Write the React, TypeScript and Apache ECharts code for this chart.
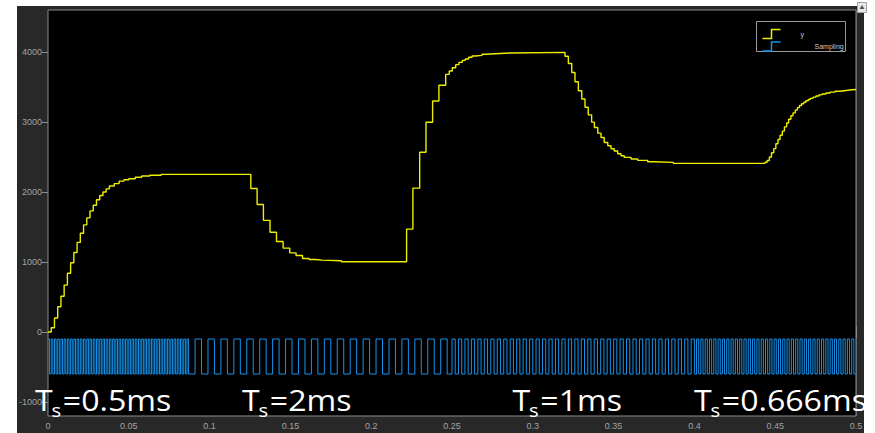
import React, { useEffect, useRef } from 'react';
import * as echarts from 'echarts';

// ---- yellow output y: step values (time at which each level starts, level) ----
const Y_TIMES = [
  0, 0.002, 0.004, 0.006, 0.008, 0.010, 0.012, 0.014, 0.016, 0.018, 0.020, 0.022, 0.024, 0.026,
  0.028, 0.030, 0.032, 0.034, 0.036, 0.038, 0.041, 0.044, 0.047, 0.050, 0.054, 0.058, 0.063, 0.070,
  0.1255, 0.1294, 0.1333, 0.1374, 0.1414, 0.1455, 0.1496, 0.1535, 0.1575, 0.1616, 0.1655, 0.1696, 0.1816,
  0.2219, 0.2258, 0.2300, 0.2339, 0.2380, 0.2419, 0.2461, 0.2483, 0.2502, 0.2523, 0.2543, 0.2564,
  0.2582, 0.2603, 0.2624, 0.2644, 0.2686, 0.2706, 0.2766, 0.2864,
  0.3199, 0.3220, 0.3241, 0.3261, 0.3282, 0.3303, 0.3323, 0.3343, 0.3364, 0.3381, 0.3402, 0.3422,
  0.3442, 0.3464, 0.3484, 0.3504, 0.3525, 0.3546, 0.3566, 0.3608, 0.3649, 0.3711, 0.3752, 0.3870,
  0.4437, 0.4450, 0.4464, 0.4477, 0.4491, 0.4504, 0.4517, 0.4530, 0.4544, 0.4557, 0.4571, 0.4583,
  0.4597, 0.4610, 0.4624, 0.4637, 0.4650, 0.4663, 0.4677, 0.4690, 0.4704, 0.4717, 0.4734, 0.4752,
  0.4771, 0.4790, 0.4814, 0.4839, 0.4870, 0.4901, 0.4938, 0.4975, 0.5,
];
const Y_VALUES = [
  0, 60, 200, 360, 510, 670, 840, 990, 1135, 1280, 1410, 1530, 1630, 1730,
  1810, 1890, 1950, 2000, 2045, 2085, 2120, 2155, 2175, 2190, 2210, 2228, 2240, 2252,
  2050, 1822, 1595, 1425, 1292, 1198, 1131, 1092, 1050, 1036, 1027, 1017, 1003,
  1470, 2055, 2567, 2996, 3300, 3524, 3681, 3729, 3776, 3819, 3852, 3881,
  3900, 3924, 3943, 3952, 3967, 3976, 3986, 3995,
  3939, 3835, 3707, 3574, 3446, 3328, 3211, 3102, 2998, 2922, 2841,
  2779, 2708, 2661, 2618, 2585, 2547, 2518, 2494, 2471, 2452, 2433, 2423, 2409,
  2425, 2450, 2500, 2560, 2620, 2690, 2750, 2810, 2870, 2930, 2985, 3040,
  3090, 3130, 3170, 3205, 3235, 3260, 3283, 3303, 3322, 3338, 3355, 3372,
  3388, 3400, 3415, 3427, 3440, 3450, 3460, 3465, 3465,
];

// ---- blue "Sampling" square wave: segments and toggle interval ----
const SAMPLING_STARTS = [0, 0.087, 0.25, 0.4];
const SAMPLING_ENDS = [0.087, 0.25, 0.4, 0.5];
const SAMPLING_TOGGLE = [0.001, 0.004, 0.002, 0.00133333];
const SAMPLING_LEVELS = [-100, -600];

const Y_TICKS = [-1000, 0, 1000, 2000, 3000, 4000];
const TS_LABELS = ['0.5ms', '2ms', '1ms', '0.666ms'];
const SERIES_NAMES = ['y', 'Sampling'];

const YELLOW = '#eeee00';
const BLUE = '#1593ec';

function buildYellow() {
  return Y_TIMES.map((t, i) => [t, Y_VALUES[i]]);
}

function buildSampling() {
  const out: number[][] = [];
  let state = 0;
  for (let s = 0; s < SAMPLING_STARTS.length; s++) {
    const n = Math.round((SAMPLING_ENDS[s] - SAMPLING_STARTS[s]) / SAMPLING_TOGGLE[s]);
    for (let k = 0; k < n; k++) {
      out.push([SAMPLING_STARTS[s] + k * SAMPLING_TOGGLE[s], SAMPLING_LEVELS[state]]);
      state = 1 - state;
    }
  }
  out.push([0.5, SAMPLING_LEVELS[1 - state]]);
  return out;
}

const LABEL_X = [35, 242, 512.5, 694];

function tsLabel(x: number, value: string) {
  return {
    type: 'group',
    x,
    y: 0,
    scaleX: 1.07,
    z: 50,
    children: [
      { type: 'text', x: 0, y: 399.5, z: 50, style: { text: 'T', fontSize: 30, fontFamily: 'Open Sans', fill: '#ffffff', verticalAlign: 'middle' } },
      { type: 'text', x: 15.5, y: 410, z: 50, style: { text: 's', fontSize: 19, fontFamily: 'Open Sans', fill: '#ffffff', verticalAlign: 'middle' } },
      { type: 'text', x: 26, y: 399.5, z: 50, style: { text: '=' + value, fontSize: 30, fontFamily: 'Open Sans', fill: '#ffffff', verticalAlign: 'middle' } },
    ],
  };
}

export default function App() {
  const ref = useRef<HTMLDivElement>(null);
  useEffect(() => {
    if (!ref.current) return;
    const chart = echarts.init(ref.current, undefined, { renderer: 'svg' });
    const axisFont = { color: '#a3a3a3', fontSize: 9, fontFamily: 'Liberation Sans, Arial, sans-serif' };
    const fmt = (v: number) => String(Math.round(v * 1000) / 1000);
    const option: any = {
      animation: false,
      backgroundColor: '#ffffff',
      grid: {
        left: 48,
        right: 19,
        top: 10,
        bottom: 17,
        show: true,
        backgroundColor: '#000000',
        borderColor: '#8c8c8c',
        borderWidth: 1,
        z: 1,
      },
      xAxis: [
        {
          type: 'value',
          min: 0,
          max: 0.5,
          interval: 0.05,
          position: 'bottom',
          axisLine: { show: false },
          axisTick: { show: true, inside: true, length: 6, lineStyle: { color: '#8c8c8c' } },
          axisLabel: { ...axisFont, margin: 5, formatter: fmt },
          splitLine: { show: true, lineStyle: { color: '#4a4a4a', width: 1 } },
        },
        {
          type: 'value',
          min: 0,
          max: 0.5,
          interval: 0.05,
          position: 'top',
          axisLine: { show: false },
          axisTick: { show: true, inside: true, length: 6, lineStyle: { color: '#8c8c8c' } },
          axisLabel: { show: false },
          splitLine: { show: false },
        },
      ],
      yAxis: [
        {
          type: 'value',
          min: -1200,
          max: 4600,
          position: 'left',
          axisLine: { show: false },
          axisTick: { show: true, inside: true, length: 6, lineStyle: { color: '#8c8c8c' }, customValues: Y_TICKS },
          axisLabel: { ...axisFont, margin: 6, customValues: Y_TICKS, formatter: fmt },
          splitLine: { show: true, lineStyle: { color: '#4a4a4a', width: 1 } },
        },
        {
          type: 'value',
          min: -1200,
          max: 4600,
          position: 'right',
          axisLine: { show: false },
          axisTick: { show: true, inside: true, length: 6, lineStyle: { color: '#8c8c8c' }, customValues: Y_TICKS },
          axisLabel: { show: false, customValues: Y_TICKS },
          splitLine: { show: false },
        },
      ],
      legend: [
        {
          data: [{ name: SERIES_NAMES[0], icon: 'path://M0,9L9,9L9,0L18,0' }],
          left: 760,
          top: 27,
          padding: 0,
          itemWidth: 18,
          itemHeight: 9,
          selectedMode: false,
          z: 20,
          itemStyle: { color: 'none', borderColor: YELLOW, borderWidth: 1.5 },
          textStyle: { color: '#c8c8c8', fontSize: 7, fontFamily: 'Liberation Sans, Arial, sans-serif', padding: [0, 0, 0, 15] },
        },
        {
          data: [{ name: SERIES_NAMES[1], icon: 'path://M0,9L9,9L9,0L18,0' }],
          left: 760,
          top: 39.5,
          padding: 0,
          itemWidth: 18,
          itemHeight: 9,
          selectedMode: false,
          z: 20,
          itemStyle: { color: 'none', borderColor: BLUE, borderWidth: 1.5 },
          textStyle: { color: '#c8c8c8', fontSize: 7, fontFamily: 'Liberation Sans, Arial, sans-serif', padding: [0, 0, 0, 29] },
        },
      ],
      graphic: [
        { type: 'rect', z: -10, shape: { x: 17, y: 6, width: 847, height: 427 }, style: { fill: '#282828' } },
        { type: 'rect', z: 15, shape: { x: 756.5, y: 21.5, width: 89, height: 30 }, style: { fill: '#000000', stroke: '#9a9a9a', lineWidth: 1 } },
        { type: 'rect', z: 15, shape: { x: 857.5, y: 2.5, width: 9, height: 10 }, style: { fill: '#e8e8e8', stroke: '#a0a0a0', lineWidth: 1 } },
        { type: 'polygon', z: 16, shape: { points: [[859.5, 9], [862, 5], [864.5, 9]] }, style: { fill: '#555555' } },
        ...TS_LABELS.map((v, i) => tsLabel(LABEL_X[i], v)),
      ],
      series: [
        {
          name: SERIES_NAMES[1],
          type: 'line',
          step: 'end',
          xAxisIndex: 0,
          yAxisIndex: 0,
          data: buildSampling(),
          symbol: 'none',
          showSymbol: false,
          color: BLUE,
          lineStyle: { color: BLUE, width: 1 },
          z: 3,
        },
        {
          name: SERIES_NAMES[0],
          type: 'line',
          step: 'end',
          xAxisIndex: 0,
          yAxisIndex: 0,
          data: buildYellow(),
          symbol: 'none',
          showSymbol: false,
          color: YELLOW,
          lineStyle: { color: YELLOW, width: 1.4 },
          z: 4,
        },
      ],
    };
    chart.setOption(option);
    return () => chart.dispose();
  }, []);
  return <div ref={ref} style={{ position: 'fixed', left: 0, top: 0, width: 875, height: 433 }} />;
}
